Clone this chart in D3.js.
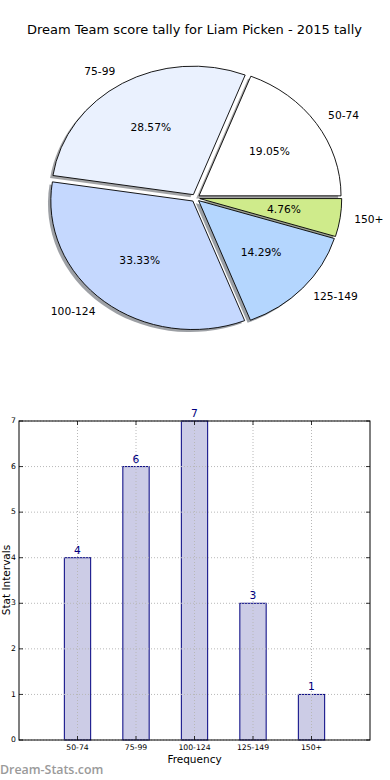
<!DOCTYPE html>
<html><head><meta charset="utf-8">
<script src="https://cdn.jsdelivr.net/npm/d3@7"></script>
<style>body{margin:0;background:#fff;} svg{display:block;font-family:"DejaVu Sans",sans-serif;}</style>
</head><body>
<script>
const title = "Dream Team score tally for Liam Picken - 2015 tally";
const categories = ["50-74","75-99","100-124","125-149","150+"];
const counts = [4,6,7,3,1];
const pieColors = ["#ffffff","#eaf1fe","#c5d8fe","#b4d6fe","#cfeb8b"];
const yTicks = [0,1,2,3,4,5,6,7];
const xLabel = "Frequency";
const yLabel = "Stat Intervals";
const watermark = "Dream-Stats.com";

const W=390,H=780;
const svg=d3.select("body").append("svg").attr("width",W).attr("height",H);

svg.append("text").attr("x",194.5).attr("y",30).attr("text-anchor","middle")
  .attr("dominant-baseline","middle").attr("font-size",13).attr("fill","#000").text(title);

// ---- Pie ----
const cx=195.5, cy=198, rx=142, ry=128.5, expl=0.03;
const total=d3.sum(counts);
const pie=d3.pie().sort(null).startAngle(Math.PI/2).endAngle(Math.PI/2-2*Math.PI);
const arcs=pie(counts);
const arcGen=d3.arc().innerRadius(0).outerRadius(1);
const pg=svg.append("g");
function wedgeTransform(d,dx,dy){
  const a=(d.startAngle+d.endAngle)/2;
  const ox=cx+expl*rx*Math.sin(a)+dx, oy=cy-expl*ry*Math.cos(a)+dy;
  return `translate(${ox},${oy}) scale(${rx},${ry})`;
}
// shadows
pg.selectAll("path.sh").data(arcs).enter().append("path").attr("class","sh")
  .attr("d",arcGen).attr("transform",d=>wedgeTransform(d,-0.02*rx,0.02*ry))
  .attr("fill",(d,i)=>{const c=d3.rgb(pieColors[i]);return d3.rgb(c.r*0.3,c.g*0.3,c.b*0.3).toString();})
  .attr("fill-opacity",0.5);
pg.selectAll("path.w").data(arcs).enter().append("path").attr("class","w")
  .attr("d",arcGen).attr("transform",d=>wedgeTransform(d,0,0))
  .attr("fill",(d,i)=>pieColors[i]).attr("stroke","#000").attr("stroke-width",0.9)
  .attr("vector-effect","non-scaling-stroke");
arcs.forEach((d,i)=>{
  const a=(d.startAngle+d.endAngle)/2, s=Math.sin(a), c=Math.cos(a);
  const lx=cx+(expl+1.1)*rx*s, ly=cy-(expl+1.1)*ry*c;
  svg.append("text").attr("x",lx).attr("y",ly).attr("dominant-baseline","middle")
    .attr("text-anchor",s>0?"start":"end").attr("font-size",10.7).text(categories[i]);
  const px=cx+(expl+0.6)*rx*s, py=cy-(expl+0.6)*ry*c;
  svg.append("text").attr("x",px).attr("y",py).attr("dominant-baseline","middle")
    .attr("text-anchor","middle").attr("font-size",10.7)
    .text((d.value/total*100).toFixed(2)+"%");
});

// ---- Bar chart ----
const L=19,R=370,T=421,B=740;
const x=d3.scaleLinear().domain([0,categories.length+1]).range([L,R]);
const y=d3.scaleLinear().domain([0,7]).range([B,T]);
const bw=x(0.45)-x(0);
const bg=svg.append("g");
bg.selectAll("rect.bar").data(counts).enter().append("rect")
  .attr("x",(d,i)=>x(i+1)-bw/2).attr("y",d=>y(d)).attr("width",bw).attr("height",d=>y(0)-y(d))
  .attr("fill","#ccccE6").attr("stroke","#000080").attr("stroke-width",1);
// grid
const grid=bg.append("g").attr("stroke","#b8b8b8").attr("stroke-width",1).attr("stroke-dasharray","1,2");
yTicks.forEach(t=>grid.append("line").attr("x1",L).attr("x2",R).attr("y1",y(t)).attr("y2",y(t)));
categories.forEach((c,i)=>grid.append("line").attr("x1",x(i+1)).attr("x2",x(i+1)).attr("y1",T).attr("y2",B));
// frame
bg.append("rect").attr("x",L).attr("y",T).attr("width",R-L).attr("height",B-T)
  .attr("fill","none").attr("stroke","#000").attr("stroke-width",1);
// ticks
const tk=bg.append("g").attr("stroke","#000").attr("stroke-width",0.8);
yTicks.forEach(t=>{
  tk.append("line").attr("x1",L).attr("x2",L+4).attr("y1",y(t)).attr("y2",y(t));
  tk.append("line").attr("x1",R).attr("x2",R-4).attr("y1",y(t)).attr("y2",y(t));
  bg.append("text").attr("x",L-3).attr("y",y(t)).attr("text-anchor","end")
    .attr("dominant-baseline","middle").attr("font-size",7.7).text(t);
});
categories.forEach((c,i)=>{
  tk.append("line").attr("x1",x(i+1)).attr("x2",x(i+1)).attr("y1",B).attr("y2",B-4);
  tk.append("line").attr("x1",x(i+1)).attr("x2",x(i+1)).attr("y1",T).attr("y2",T+4);
  bg.append("text").attr("x",x(i+1)).attr("y",748).attr("text-anchor","middle")
    .attr("dominant-baseline","middle").attr("font-size",7.7).text(c);
});
// value labels
bg.selectAll("text.val").data(counts).enter().append("text")
  .attr("x",(d,i)=>x(i+1)).attr("y",d=>y(d)-4).attr("text-anchor","middle")
  .attr("font-size",10.7).attr("fill","#000080").text(d=>d);
bg.append("text").attr("x",194.5).attr("y",760).attr("text-anchor","middle")
  .attr("dominant-baseline","middle").attr("font-size",10.5).text(xLabel);
bg.append("text").attr("transform","translate(6.5,580) rotate(-90)").attr("text-anchor","middle")
  .attr("dominant-baseline","middle").attr("font-size",10.5).text(yLabel);
svg.append("text").attr("x",0).attr("y",770.5).attr("dominant-baseline","middle")
  .attr("font-family","'Open Sans',sans-serif").attr("font-size",12.4).attr("font-weight",600)
  .attr("fill","#9a9a9a").text(watermark);
</script>
</body></html>
